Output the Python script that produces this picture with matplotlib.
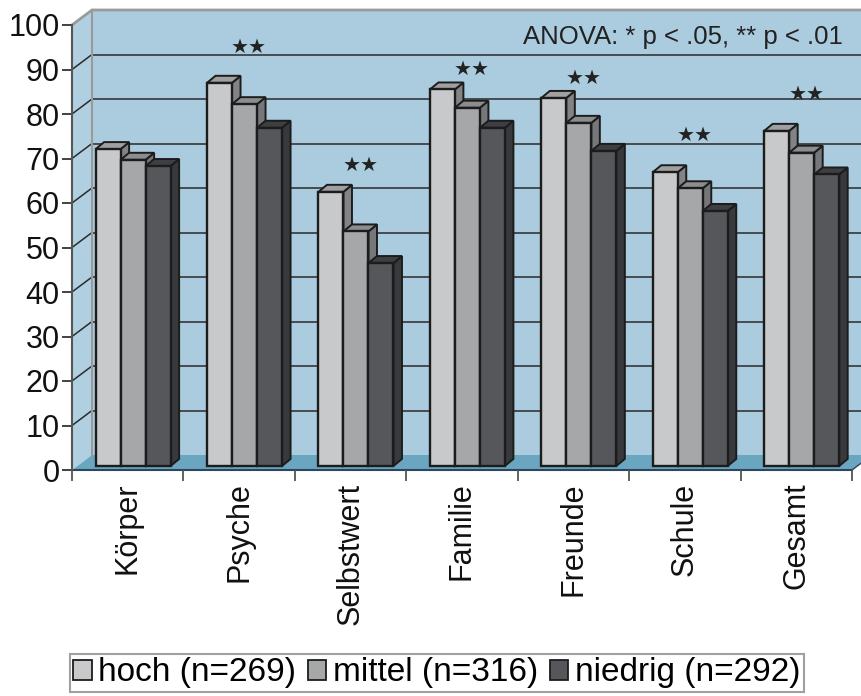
import matplotlib
matplotlib.use("Agg")
import matplotlib.pyplot as plt
from matplotlib.patches import Polygon, Patch

plt.rcParams['font.family'] = ['Liberation Sans', 'DejaVu Sans']

categories = ["Körper", "Psyche", "Selbstwert", "Familie", "Freunde", "Schule", "Gesamt"]
series = ["hoch (n=269)", "mittel (n=316)", "niedrig (n=292)"]
hoch = [71.2, 86.1, 61.6, 84.6, 82.7, 66.0, 75.3]
mittel = [68.8, 81.3, 52.7, 80.5, 77.1, 62.4, 70.4]
niedrig = [67.4, 76.0, 45.6, 76.0, 70.8, 57.3, 65.5]
signif = ["", "★★", "★★", "★★", "★★", "★★", "★★"]
sig_label_y = [0, 95.0, 68.5, 90.0, 88.0, 75.3, 84.3]
anova_note = "ANOVA: * p < .05, ** p < .01"

values = [hoch, mittel, niedrig]
front_cols = ["#C8C9CB", "#A5A7A9", "#55575B"]
top_cols = ["#A0A0A2", "#8C8D8F", "#3E3F42"]
side_cols = ["#838385", "#76777A", "#38393C"]
edge = "#1c1c1c"

W, H = 862, 696
fig = plt.figure(figsize=(W / 100, H / 100), dpi=100)
x0p, x1p, y0p, y1p = 72, 852, 470, 25
ax = fig.add_axes([x0p / W, (H - y0p) / H, (x1p - x0p) / W, (y0p - y1p) / H])
n = len(categories)
ax.set_xlim(0, n)
ax.set_ylim(0, 100)
ax.set_facecolor("none")

px_x = (x1p - x0p) / n
px_y = (y0p - y1p) / 100
dx, dy = 20 / px_x, 15 / px_y          # full depth of the box
f = 0.27                               # depth position of bars
bdx, bdy = 8.5 / px_x, 7 / px_y        # bar depth
wall = "#AACCDE"
floor = "#6BA6C0"
border = "#9a9a9a"

# walls
ax.add_patch(Polygon([(dx, dy), (n + dx + 1, dy), (n + dx + 1, 100 + dy), (dx, 100 + dy)],
                     closed=True, facecolor=wall, edgecolor="none", clip_on=False, zorder=0))
ax.add_patch(Polygon([(0, 0), (dx, dy), (dx, 100 + dy), (0, 100)],
                     closed=True, facecolor="#B0D0E2", edgecolor="none", clip_on=False, zorder=0))
ax.add_patch(Polygon([(0, 0), (n, 0), (n + dx, dy), (dx, dy)],
                     closed=True, facecolor=floor, edgecolor="none", clip_on=False, zorder=0.5))
# gridlines
for v in range(10, 100, 10):
    ax.plot([dx, n + dx + 1], [v + dy, v + dy], color="#2a2a2a", lw=1.1, clip_on=False, zorder=0.6)
    ax.plot([0, dx], [v, v + dy], color="#2a2a2a", lw=1.1, clip_on=False, zorder=0.6)
ax.plot([0, dx, n + dx + 1], [100, 100 + dy, 100 + dy], color=border, lw=2, clip_on=False, zorder=0.7)
ax.plot([dx, dx], [dy, 100 + dy], color=border, lw=1.5, clip_on=False, zorder=0.7)
ax.plot([0, n], [0, 0], color="#2b4660", lw=1.5, clip_on=False, zorder=0.7)
ax.plot([n, n + dx], [0, dy], color="#2b4660", lw=1.0, clip_on=False, zorder=0.7)

# bars
bw = 0.2244
for i in range(n):
    start = i + 0.5 - 1.5 * bw + f * dx
    base = f * dy
    for j, vals in enumerate(values):
        v = vals[i]
        xl = start + j * bw
        xr = xl + bw
        top = base + v
        side = Polygon([(xr, base), (xr + bdx, base + bdy), (xr + bdx, top + bdy), (xr, top)],
                       closed=True, facecolor=side_cols[j], edgecolor=edge, lw=1.4, zorder=2 + j)
        topf = Polygon([(xl, top), (xr, top), (xr + bdx, top + bdy), (xl + bdx, top + bdy)],
                       closed=True, facecolor=top_cols[j], edgecolor=edge, lw=1.4, zorder=2 + j)
        front = Polygon([(xl, base), (xr, base), (xr, top), (xl, top)],
                        closed=True, facecolor=front_cols[j], edgecolor=edge, lw=1.7, zorder=2 + j)
        for p in (side, topf, front):
            p.set_clip_on(False)
            ax.add_patch(p)
    if signif[i]:
        ax.text(i + 0.5 + 0.09, sig_label_y[i], signif[i], ha="center", va="center",
                fontsize=14.5, color="#222222", zorder=10, family=["DejaVu Sans"])

ax.text(6.92, 97.3, anova_note, ha="right", va="center", fontsize=18.5,
        color="#222222", zorder=10)

# axes
for s in ["top", "right", "bottom"]:
    ax.spines[s].set_visible(False)
ax.spines["left"].set_color("#555555")
ax.spines["left"].set_linewidth(1.5)
ax.set_yticks(range(0, 101, 10))
ax.tick_params(axis="y", direction="out", length=7, width=1.3, color="#333333",
               labelsize=22, pad=2, labelcolor="#111111")
ax.set_xticks([i + 0.5 for i in range(n)])
ax.set_xticklabels(categories, rotation=90, fontsize=22, color="#111111")
ax.set_xticks(range(n + 1), minor=True)
ax.tick_params(axis="x", which="major", length=0, pad=9)
ax.tick_params(axis="x", which="minor", length=8, width=1.3, color="#555555")

handles = [Patch(facecolor=front_cols[j], edgecolor=edge, lw=1.3) for j in range(3)]
leg = fig.legend(handles, series, loc="center", bbox_to_anchor=(437 / W, 1 - 673 / H),
                 ncol=3, fontsize=24, handlelength=0.55, handleheight=0.55, handletextpad=0.2,
                 columnspacing=0.35, borderpad=0.1, fancybox=False, frameon=True,
                 borderaxespad=0)
leg.get_frame().set_edgecolor("#888888")
leg.get_frame().set_linewidth(1.5)

fig.savefig("out.png", dpi=100)
